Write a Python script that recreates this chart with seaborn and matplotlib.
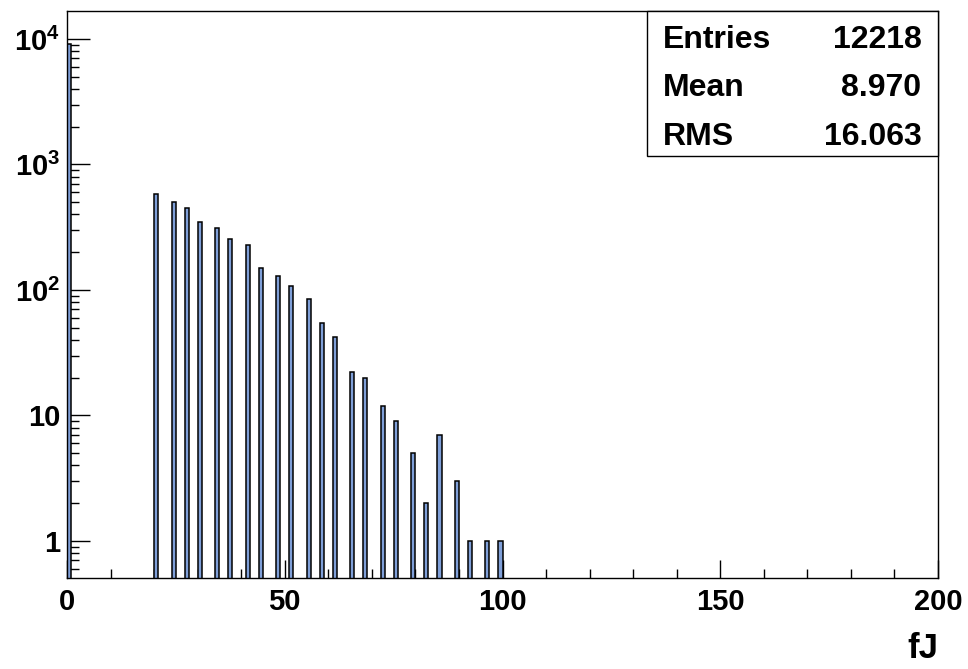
import numpy as np
import pandas as pd
import matplotlib
matplotlib.use("Agg")
import matplotlib.pyplot as plt
import seaborn as sns
from matplotlib.ticker import LogLocator, MultipleLocator, FuncFormatter

# histogram contents (bin left edge in fJ, bin width 1)
bin_edges = [0, 20, 24, 27, 30, 34, 37, 41, 44, 48, 51, 55, 58, 61,
             65, 68, 72, 75, 79, 82, 85, 89, 92, 96, 99]
counts = [9100, 577, 500, 452, 351, 313, 254, 227, 151, 130, 107, 84, 55, 42,
          22, 20, 12, 9, 5, 2, 7, 3, 1, 1, 1]

stat_names = ["Entries", "Mean", "RMS"]
stat_values = ["12218", "8.970", "16.063"]

sns.set_style("white")
plt.rcParams['font.family'] = ['Liberation Sans', 'DejaVu Sans']
plt.rcParams['font.weight'] = 'bold'
plt.rcParams['text.color'] = 'black'
plt.rcParams['axes.labelcolor'] = 'black'
plt.rcParams['xtick.color'] = 'black'
plt.rcParams['ytick.color'] = 'black'
plt.rcParams['mathtext.fontset'] = 'custom'
plt.rcParams['mathtext.rm'] = 'Liberation Sans:bold'
plt.rcParams['mathtext.bf'] = 'Liberation Sans:bold'
plt.rcParams['mathtext.it'] = 'Liberation Sans:bold'

df = pd.DataFrame({"fJ": np.array(bin_edges, dtype=float) + 0.5,
                   "n": np.array(counts, dtype=float)})

fig = plt.figure(figsize=(9.68, 6.69), dpi=100)
ax = fig.add_axes([67/968, 91/669, 871/968, 567/669])

sns.histplot(data=df, x="fJ", weights="n", binwidth=1, binrange=(0, 200),
             color="#7f9fd8", edgecolor="black", linewidth=1.1, alpha=1, ax=ax)

# drop empty bins so nothing is drawn for them on the log axis
for p in list(ax.patches):
    if p.get_height() <= 0:
        p.remove()

ax.set_yscale("log")
ax.set_xlim(0, 200)
ax.set_ylim(0.507, 16700)

ax.xaxis.set_major_locator(MultipleLocator(50))
ax.xaxis.set_minor_locator(MultipleLocator(10))
ax.yaxis.set_major_locator(LogLocator(base=10, numticks=10))
ax.yaxis.set_minor_locator(LogLocator(base=10, subs=np.arange(2, 10), numticks=20))


def ylab(v, pos):
    if v == 1:
        return "1"
    if v == 10:
        return "10"
    e = int(round(np.log10(v)))
    return r"$10^{%d}$" % e


ax.yaxis.set_major_formatter(FuncFormatter(ylab))
ax.yaxis.set_minor_formatter(FuncFormatter(lambda v, p: ""))

ax.tick_params(axis="x", which="major", direction="in", length=13, width=1,
               labelsize=21, pad=7, bottom=True, top=False, colors="black")
ax.tick_params(axis="x", which="minor", direction="in", length=6.5, width=1,
               bottom=True, top=False, colors="black")
ax.tick_params(axis="y", which="major", direction="in", length=16.5, width=1,
               labelsize=21, pad=5, left=True, right=False, colors="black")
ax.tick_params(axis="y", which="minor", direction="in", length=8.5, width=1,
               left=True, right=False, colors="black")
for lab in ax.get_xticklabels() + ax.get_yticklabels():
    lab.set_fontweight("bold")

for s in ax.spines.values():
    s.set_visible(True)
    s.set_linewidth(1.0)
    s.set_color("black")

ax.set_ylabel("")
ax.set_xlabel("fJ", fontsize=25, fontweight="bold", ha="right", color="black")
ax.xaxis.set_label_coords(1.0, -0.095)

# stats box
ax.add_patch(plt.Rectangle((0.666, 0.744), 0.334, 0.256, transform=ax.transAxes,
                           facecolor="white", edgecolor="black", linewidth=1.0,
                           zorder=5, clip_on=False))
rows_y = [0.9347, 0.850, 0.7637]
for name, val, yy in zip(stat_names, stat_values, rows_y):
    ax.text(0.684, yy, name, transform=ax.transAxes, fontsize=23,
            fontweight="bold", ha="left", va="baseline", zorder=6)
    ax.text(0.981, yy, val, transform=ax.transAxes, fontsize=23,
            fontweight="bold", ha="right", va="baseline", zorder=6)

fig.savefig("out.png", dpi=100)
